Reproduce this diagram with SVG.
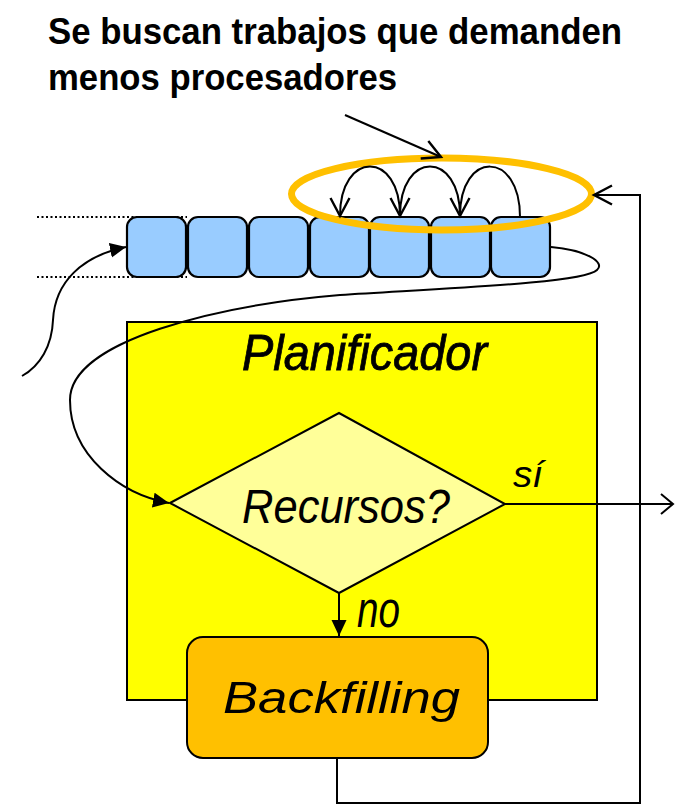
<svg xmlns="http://www.w3.org/2000/svg" width="675" height="805" viewBox="0 0 675 805">
  <style>
    .title { font-family: "Liberation Sans Narrow", "Liberation Sans", Arial, sans-serif; font-weight: bold; font-size: 37px; fill: #000; }
    .lbl { font-family: "Liberation Sans", Arial, sans-serif; font-style: italic; fill: #000; }
    .slot { fill: #99CCFF; stroke: #000; stroke-width: 2.2; }
    .line { fill: none; stroke: #000; stroke-width: 2; }
    .dots { stroke: #000; stroke-width: 2; stroke-dasharray: 2 2.5; }
  </style>
  <defs>
    <marker id="open" markerUnits="userSpaceOnUse" markerWidth="24" markerHeight="24" refX="20" refY="11" orient="auto">
      <path d="M2,1.5 L20,11 L2,20.5" fill="none" stroke="#000" stroke-width="2.4"/>
    </marker>
    <marker id="openSmall" markerUnits="userSpaceOnUse" markerWidth="16" markerHeight="24" refX="13" refY="11" orient="auto">
      <path d="M1,1 L13,11 L1,21" fill="none" stroke="#000" stroke-width="2"/>
    </marker>
    <marker id="solid" markerUnits="userSpaceOnUse" markerWidth="18" markerHeight="16" refX="16" refY="7.5" orient="auto">
      <path d="M0,0 L16,7.5 L0,15 Z" fill="#000"/>
    </marker>
  </defs>

  <!-- heading -->
  <g id="heading">
    <text class="title" x="48" y="44" textLength="574" lengthAdjust="spacingAndGlyphs">Se buscan trabajos que demanden</text>
    <text class="title" x="48" y="90" textLength="349" lengthAdjust="spacingAndGlyphs">menos procesadores</text>
  </g>

  <!-- job queue -->
  <g id="queue">
    <line class="dots" x1="37" y1="217" x2="187" y2="217"/>
    <line class="dots" x1="37" y1="277" x2="187" y2="277"/>
    <rect id="job1" class="slot" x="127" y="217" width="59" height="60" rx="10"/>
    <rect id="job2" class="slot" x="188" y="217" width="59" height="60" rx="10"/>
    <rect id="job3" class="slot" x="249" y="217" width="59" height="60" rx="10"/>
    <rect id="job4" class="slot" x="310" y="217" width="59" height="60" rx="10"/>
    <rect id="job5" class="slot" x="370" y="217" width="59" height="60" rx="10"/>
    <rect id="job6" class="slot" x="431" y="217" width="59" height="60" rx="10"/>
    <rect id="job7" class="slot" x="491" y="217" width="59" height="60" rx="10"/>
  </g>

  <!-- highlighted search window -->
  <g id="window">
    <ellipse cx="441.5" cy="194" rx="150" ry="36" fill="none" stroke="#FFC000" stroke-width="7"/>
  </g>

  <!-- scheduler -->
  <g id="planificador">
    <rect x="127" y="322" width="470" height="378" fill="#FFFF00" stroke="#000" stroke-width="2"/>
    <text class="lbl" x="242" y="370" font-size="50" stroke="#000" stroke-width="0.8" textLength="245" lengthAdjust="spacingAndGlyphs">Planificador</text>
  </g>

  <!-- decision -->
  <g id="recursos">
    <polygon points="170,503 339,413 505,504 339,593" fill="#FFFF99" stroke="#000" stroke-width="2"/>
    <text class="lbl" x="242" y="523" font-size="49" textLength="208" lengthAdjust="spacingAndGlyphs">Recursos?</text>
  </g>

  <!-- backfilling step -->
  <g id="backfilling">
    <rect x="187" y="637" width="301" height="121" rx="16" fill="#FFC000" stroke="#000" stroke-width="2"/>
    <text class="lbl" x="223" y="713" font-size="44" textLength="237" lengthAdjust="spacingAndGlyphs">Backfilling</text>
  </g>

  <!-- connectors -->
  <g id="connectors">
    <!-- pointer from heading to window -->
    <line class="line" x1="345" y1="115" x2="441" y2="157" marker-end="url(#open)"/>
    <!-- hops between queued jobs -->
    <path class="line" d="M520,217 C520,150 460,150 460,216" marker-end="url(#open)"/>
    <path class="line" d="M460,216 C460,150 400,150 400,216" marker-end="url(#open)"/>
    <path class="line" d="M400,216 C400,150 340,150 340,216" marker-end="url(#open)"/>
    <!-- arrivals into the queue -->
    <path class="line" d="M22,376 C40,366 52,346 53,320 C55,282 82,256 126,247" marker-end="url(#solid)"/>
    <!-- queue head to decision -->
    <path class="line" d="M551,247 C585,250 606,262 597,270 C584,283 450,288 340,295 C220,305 70,340 70,400 C70,455 120,494 169,503" marker-end="url(#solid)"/>
    <!-- yes branch -->
    <line class="line" x1="505" y1="504" x2="673" y2="504" marker-end="url(#openSmall)"/>
    <text class="lbl" x="513" y="487" font-size="36" textLength="30" lengthAdjust="spacingAndGlyphs">sí</text>
    <!-- no branch -->
    <line class="line" x1="339" y1="593" x2="339" y2="636" marker-end="url(#solid)"/>
    <text class="lbl" x="357" y="627" font-size="52" textLength="43" lengthAdjust="spacingAndGlyphs">no</text>
    <!-- loop back from backfilling to the window -->
    <polyline class="line" points="337,758 337,803 640,803 640,195 594,195" marker-end="url(#open)"/>
  </g>
</svg>
